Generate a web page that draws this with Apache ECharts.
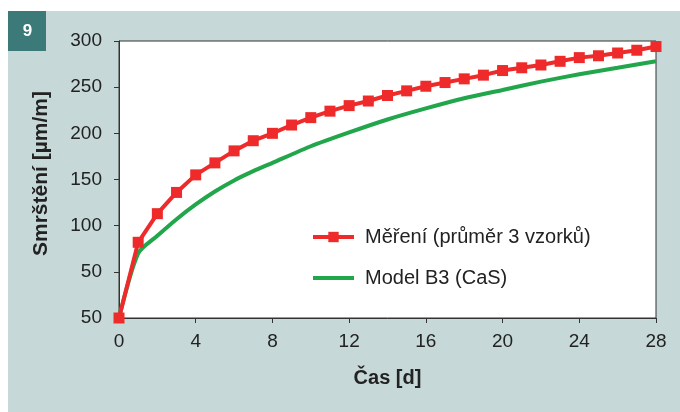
<!DOCTYPE html>
<html>
<head>
<meta charset="utf-8">
<script src="https://cdn.jsdelivr.net/npm/echarts@6/dist/echarts.min.js"></script>
<style>
  html, body { margin: 0; padding: 0; background: #fff; }
  #chart { width: 680px; height: 412px; }
</style>
</head>
<body>
<div id="chart"></div>
<script>
// days 0..28 for the measured series
const days = [0, 1, 2, 3, 4, 5, 6, 7, 8, 9, 10, 11, 12, 13, 14, 15, 16, 17, 18, 19, 20, 21, 22, 23, 24, 25, 26, 27, 28];
const measured = [0, 82, 113, 136, 155, 168, 181, 192, 200, 209, 217, 224, 230, 235, 241, 246, 251, 255, 259, 263, 268, 271, 274, 278, 282, 284, 287, 290, 294];

// model curve, read at these days
const modelDays = [0, 1, 2, 3, 4, 5, 6, 7, 8, 10, 12, 14, 16, 18, 20, 22, 24, 26, 28];
const modelVals = [0, 70, 89, 107, 123, 137, 149, 159, 168, 186, 201, 215, 227, 238, 247, 256, 264, 271, 278];

// y tick labels as printed in the figure (bottom one reads 50)
const yTickLabels = ['50', '50', '100', '150', '200', '250', '300'];

const font = 'Liberation Sans, Arial, sans-serif';

const option = {
  backgroundColor: '#ffffff',
  animation: false,
  graphic: [
    {
      type: 'rect',
      z: -10,
      shape: { x: 8, y: 11, width: 672, height: 401 },
      style: { fill: '#c6d9d8' }
    },
    {
      type: 'rect',
      z: -5,
      shape: { x: 8, y: 11, width: 38, height: 40 },
      style: { fill: '#3b7a79' }
    },
    {
      type: 'text',
      x: 27.5,
      y: 31,
      style: { text: '9', fill: '#fff', font: 'bold 17px ' + font, align: 'center', verticalAlign: 'middle' }
    }
  ],
  grid: {
    left: 119,
    right: 24,
    top: 41,
    bottom: 94,
    show: true,
    backgroundColor: '#ffffff',
    borderColor: '#333',
    borderWidth: 1
  },
  legend: {
    orient: 'vertical',
    left: 306,
    top: 222,
    itemWidth: 41,
    itemHeight: 13,
    itemGap: 21,
    lineStyle: { width: 4 },
    textStyle: { fontFamily: font, fontSize: 20, lineHeight: 20, color: '#222', padding: [0, 0, 0, 6] },
    data: [
      { name: 'Měření (průměr 3 vzorků)', lineStyle: { width: 4 } },
      { name: 'Model B3 (CaS)', icon: 'path://M0,0 L100,0 L100,10 L0,10 Z' }
    ]
  },
  xAxis: {
    type: 'value',
    min: 0,
    max: 28,
    interval: 4,
    name: 'Čas [d]',
    nameLocation: 'middle',
    nameGap: 50,
    nameTextStyle: { fontFamily: font, fontSize: 20, fontWeight: 'bold', color: '#222' },
    axisLine: { lineStyle: { color: '#333' } },
    axisTick: { show: true, length: 5, lineStyle: { color: '#333' } },
    axisLabel: { fontFamily: font, fontSize: 19, color: '#222', margin: 14 },
    splitLine: { show: false }
  },
  yAxis: {
    type: 'value',
    min: 0,
    max: 300,
    interval: 50,
    name: 'Smrštění [µm/m]',
    nameLocation: 'middle',
    nameGap: 67,
    nameTextStyle: { fontFamily: font, fontSize: 21, fontWeight: 'bold', color: '#222', padding: [0, 0, 0, 12] },
    axisLine: { show: true, lineStyle: { color: '#333' } },
    axisTick: { show: true, length: 5, lineStyle: { color: '#333' } },
    axisLabel: {
      fontFamily: font,
      fontSize: 19,
      color: '#222',
      margin: 17,
      formatter: function (v) { return yTickLabels[Math.round(v / 50)]; }
    },
    splitLine: { show: false }
  },
  series: [
    {
      name: 'Model B3 (CaS)',
      type: 'line',
      data: modelDays.map((d, i) => [d, modelVals[i]]),
      smooth: 0.25,
      symbol: 'none',
      lineStyle: { color: '#22a64b', width: 4 },
      itemStyle: { color: '#22a64b' },
      z: 2
    },
    {
      name: 'Měření (průměr 3 vzorků)',
      type: 'line',
      data: days.map((d, i) => [d, measured[i]]),
      symbol: 'rect',
      symbolSize: 11,
      lineStyle: { color: '#ee2a2a', width: 4 },
      itemStyle: { color: '#ee2a2a' },
      z: 3
    }
  ]
};

const chart = echarts.init(document.getElementById('chart'));
chart.setOption(option);
</script>
</body>
</html>
